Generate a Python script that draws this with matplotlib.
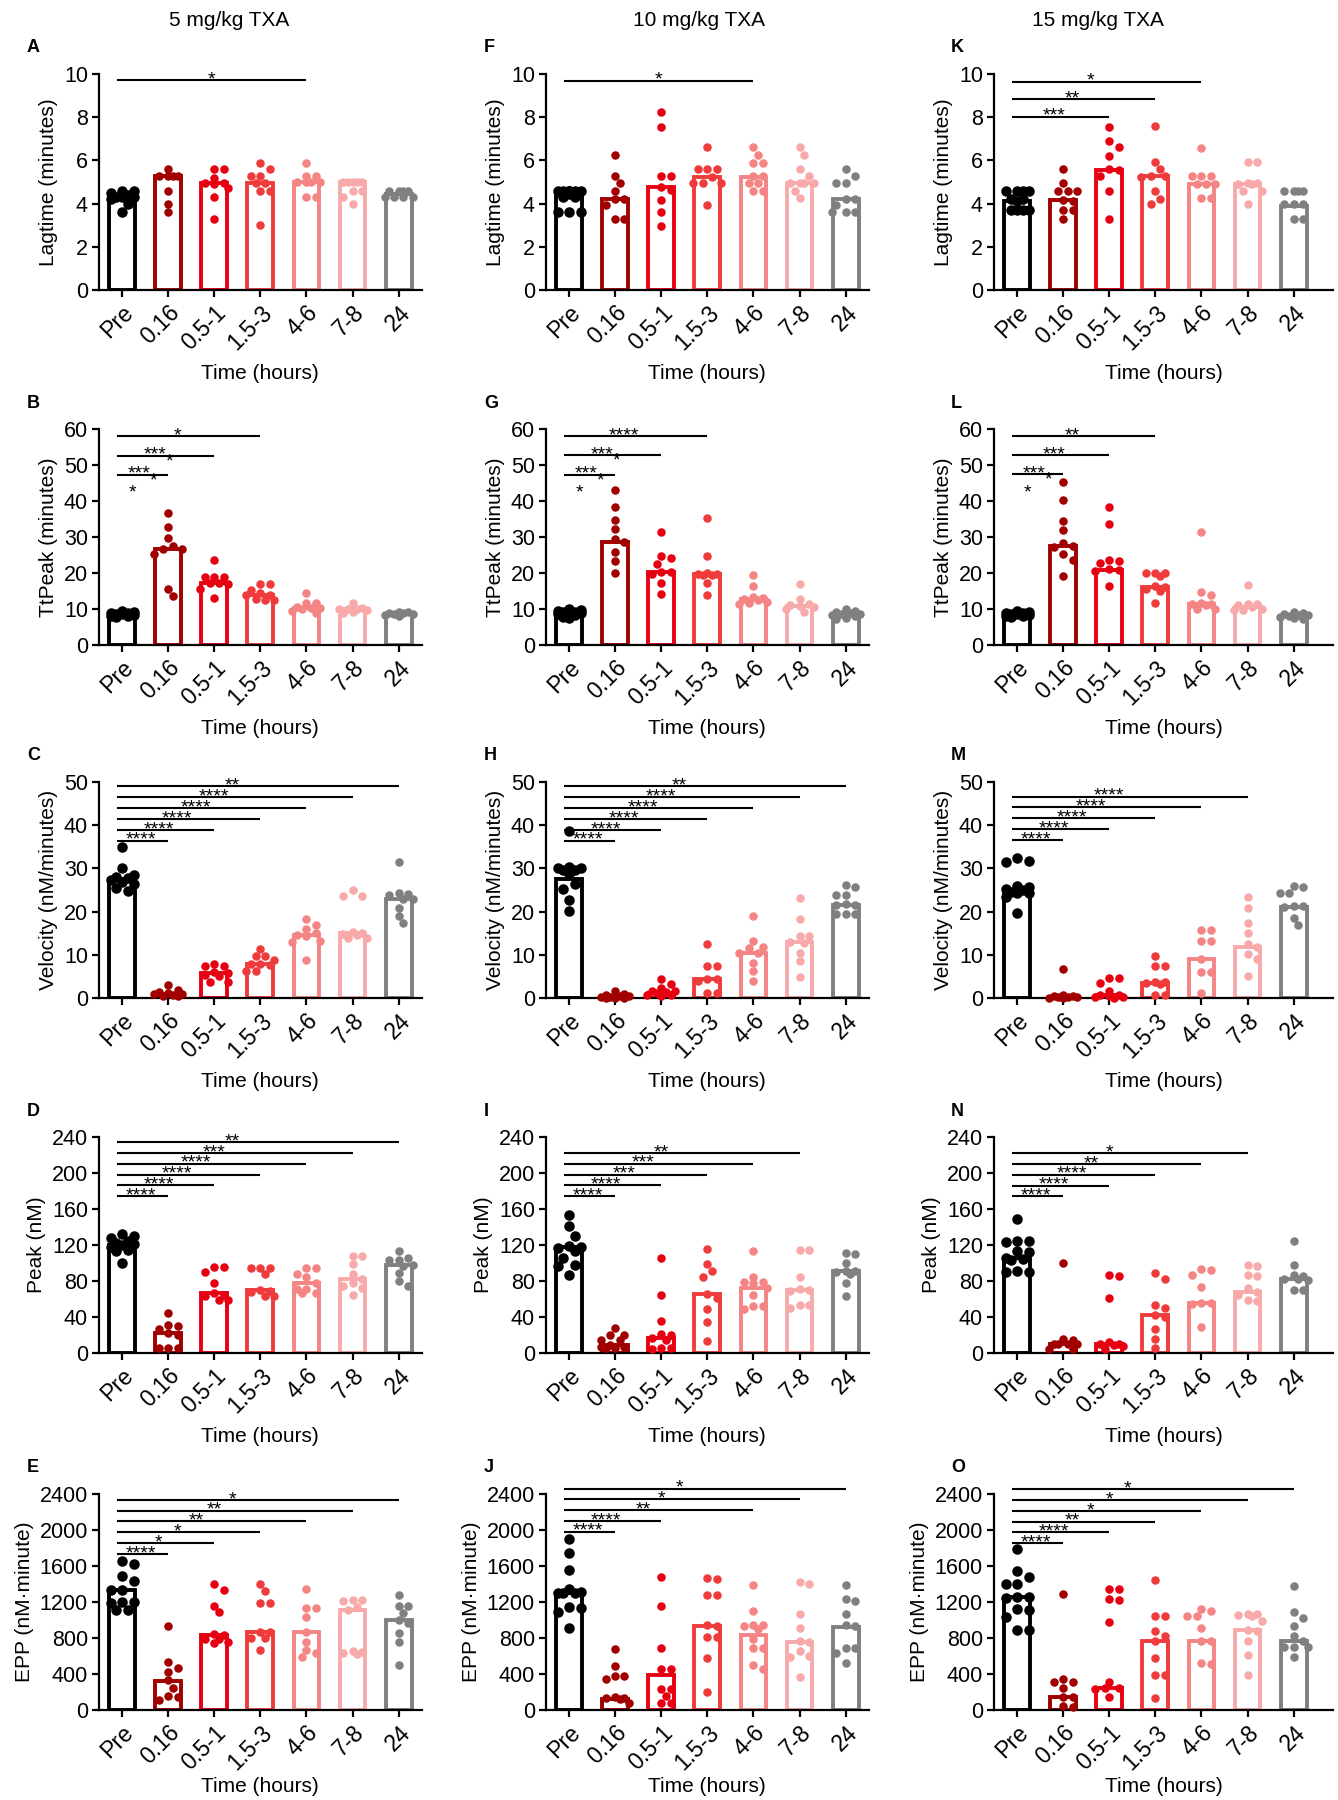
import numpy as np
import matplotlib
matplotlib.use('Agg')
import matplotlib.pyplot as plt

plt.rcParams['font.family'] = ['Liberation Sans', 'DejaVu Sans']

groups = ['Pre', '0.16', '0.5-1', '1.5-3', '4-6', '7-8', '24']
colors = ['#000000', '#a00000', '#e60012', '#ef3b3b', '#f58484', '#f8aaaa', '#808080']
doses = ['5 mg/kg TXA', '10 mg/kg TXA', '15 mg/kg TXA']
ylabels = ['Lagtime (minutes)', 'TtPeak (minutes)', 'Velocity (nM/minutes)',
           'Peak (nM)', 'EPP (nM·minute)']

# ---- 5 mg/kg ----
a_pts = [[4.6, 4.6, 4.5, 4.4, 4.3, 4.3, 4.3, 4.2, 4.0, 3.6],
         [5.6, 5.3, 5.3, 5.3, 5.3, 4.6, 4.0, 3.6],
         [5.6, 5.6, 5.2, 4.95, 4.95, 4.9, 4.7, 4.3, 3.3],
         [5.9, 5.6, 5.3, 5.3, 4.95, 4.95, 4.6, 4.6, 3.0],
         [5.9, 5.3, 5.3, 5.0, 5.0, 5.0, 5.0, 4.3, 4.3],
         [5.0, 5.0, 5.0, 5.0, 5.0, 4.6, 4.6, 4.3, 4.0],
         [4.6, 4.6, 4.6, 4.6, 4.3, 4.3, 4.3, 4.3]]
a_bar = [4.3, 5.3, 4.95, 4.95, 5.0, 5.0, 4.45]
a_sig = [(4, '*')]

b_pts = [[9.5, 9.2, 9.0, 8.8, 8.6, 8.5, 8.3, 8.1, 8.0, 7.8],
         [36.8, 32.7, 29.6, 27.4, 26.6, 26.6, 25.3, 15.5, 13.6],
         [23.6, 18.8, 18.8, 18.8, 17.3, 17.3, 17.0, 15.5, 13.0],
         [16.9, 16.9, 15.3, 14.5, 13.9, 13.9, 12.8, 12.5, 12.5],
         [14.4, 11.6, 11.6, 10.6, 10.4, 10.2, 10.0, 9.5, 8.8],
         [11.8, 10.2, 9.9, 9.9, 9.9, 9.6, 9.3, 9.0],
         [9.3, 9.2, 9.0, 8.8, 8.7, 8.5, 8.3, 8.0]]
b_bar = [8.4, 26.6, 17.3, 13.9, 10.4, 9.9, 8.75]
b_sig = [(1, '***.*'), (2, '***.*'), (3, '*')]

c_pts = [[35.0, 30.2, 28.4, 28.0, 27.8, 27.3, 26.8, 26.5, 25.5, 24.8],
         [2.9, 1.9, 1.5, 1.2, 1.0, 0.9, 0.6, 0.5, 0.4],
         [7.9, 7.4, 7.3, 6.0, 5.7, 5.4, 5.2, 3.8, 3.7],
         [11.4, 9.8, 9.8, 8.9, 7.9, 7.9, 7.6, 6.3, 6.2],
         [18.4, 16.9, 15.9, 15.0, 14.5, 14.3, 13.3, 13.0, 8.8],
         [25.0, 23.6, 23.6, 15.3, 15.0, 14.9, 14.5, 13.8, 13.8],
         [31.4, 24.4, 24.0, 23.9, 22.9, 22.9, 20.9, 19.0, 17.4]]
c_bar = [27.5, 1.0, 5.7, 7.9, 14.5, 15.0, 22.9]
c_sig = [(1, '****'), (2, '****'), (3, '****'), (4, '****'), (5, '****'), (6, '**')]

d_pts = [[132, 130, 128, 124, 122, 121, 120, 118, 115, 113, 100],
         [44.5, 31.5, 30.4, 26.3, 22.3, 20.4, 5.6, 5.6, 5.6],
         [96, 96, 90, 77.5, 66.4, 65, 63.8, 59.3, 59.3],
         [94.6, 94.6, 94.6, 88, 70, 69.4, 67.5, 63.8, 63.8],
         [94.6, 94.6, 88, 84, 77.5, 71, 71, 66.4, 66.4],
         [108, 108, 99, 88, 82.3, 78, 75, 72, 65],
         [113, 106, 103, 103, 98, 97, 89, 80, 74]]
d_bar = [120.5, 22.3, 66.4, 69.5, 77.5, 82.3, 97.9]
d_sig = [(1, '****'), (2, '****'), (3, '****'), (4, '****'), (5, '***'), (6, '**')]

e_pts = [[1660, 1625, 1485, 1430, 1330, 1330, 1200, 1195, 1190, 1110, 1110],
         [930, 530, 470, 420, 330, 245, 155, 150, 115],
         [1400, 1335, 1160, 1085, 850, 830, 790, 790, 760, 750],
         [1400, 1320, 1190, 1190, 870, 870, 800, 800, 670],
         [1350, 1135, 1130, 1035, 865, 760, 670, 635, 590],
         [1220, 1220, 1210, 1150, 1110, 660, 650, 630, 625],
         [1275, 1160, 1155, 1080, 1000, 970, 860, 760, 500]]
e_bar = [1330, 325, 830, 868, 864, 1108, 1004]
e_sig = [(1, '****'), (2, '*'), (3, '*'), (4, '**'), (5, '**'), (6, '*')]

# ---- 10 mg/kg ----
f_pts = [[4.6, 4.6, 4.6, 4.6, 4.6, 4.6, 4.6, 4.45, 4.3, 4.3, 3.6, 3.6, 3.6],
         [6.25, 5.3, 4.95, 4.6, 4.2, 4.2, 3.95, 3.3, 3.3],
         [8.25, 7.55, 5.3, 5.3, 4.75, 4.65, 4.15, 3.6, 2.95],
         [6.6, 5.6, 5.6, 5.6, 5.25, 4.95, 4.95, 4.95, 3.95],
         [6.6, 6.25, 5.9, 5.9, 5.28, 5.28, 4.95, 4.95, 4.6, 4.6],
         [6.6, 6.25, 5.6, 5.3, 4.95, 4.95, 4.95, 4.95, 4.6, 4.25],
         [5.6, 5.3, 4.95, 4.95, 4.2, 4.2, 3.95, 3.6, 3.6, 3.6]]
f_bar = [4.45, 4.2, 4.75, 5.25, 5.25, 4.95, 4.2]
f_sig = [(4, '*')]

g_pts = [[10.0, 9.6, 9.4, 9.2, 9.1, 9.0, 8.8, 8.5, 8.2, 7.8, 7.4],
         [43.1, 38.2, 34.7, 32.2, 29.4, 28.7, 25.7, 23.4, 20.1],
         [31.5, 24.7, 24.1, 22.6, 20.3, 20.3, 19.8, 17.3, 14.1],
         [35.2, 24.8, 19.9, 19.7, 19.7, 19.5, 19.4, 17.3, 13.8],
         [19.4, 16.4, 13.2, 13.1, 12.9, 12.5, 12.0, 11.8, 11.3],
         [16.9, 12.7, 11.3, 11.0, 10.9, 10.5, 9.9, 9.3],
         [10.1, 9.4, 9.1, 8.8, 8.6, 8.5, 8.3, 8.0, 7.6, 7.3]]
g_bar = [9.0, 28.7, 20.3, 19.7, 12.9, 10.9, 8.6]
g_sig = [(1, '***.*'), (2, '***.*'), (3, '****')]

h_pts = [[38.6, 30.4, 30.2, 30.0, 29.7, 29.6, 28.7, 26.4, 25.2, 22.6, 20.2],
         [1.6, 0.9, 0.7, 0.5, 0.4, 0.3, 0.2, 0.1, 0.1, 0.0],
         [4.5, 3.3, 2.3, 1.7, 1.6, 1.5, 1.2, 0.7, 0.6, 0.5],
         [12.6, 7.4, 7.3, 4.5, 4.4, 4.0, 1.2, 1.1],
         [19.0, 13.2, 11.8, 11.6, 10.5, 10.4, 8.1, 6.2, 4.0],
         [23.1, 18.4, 14.4, 14.3, 13.0, 12.8, 10.5, 8.5, 4.9],
         [26.2, 25.6, 23.9, 23.9, 21.8, 21.6, 21.5, 19.4, 19.4, 19.4]]
h_bar = [27.5, 0.4, 1.2, 4.5, 10.5, 13.0, 21.6]
h_sig = [(1, '****'), (2, '****'), (3, '****'), (4, '****'), (5, '****'), (6, '**')]

i_pts = [[153, 141, 130, 119, 118, 117, 113, 106, 98, 97, 87],
         [27.4, 20.4, 20.0, 15.0, 14.6, 9.0, 6.3, 6.3, 6.0, 5.5],
         [105.7, 64.5, 36, 21, 20, 16.7, 15, 5.6, 5.6, 5.0],
         [115.7, 99, 91, 85, 65.7, 60.8, 49, 34, 13.7],
         [112.8, 84.2, 78.6, 78.6, 78, 72, 64, 52.7, 52.7, 49],
         [115, 115, 84, 71, 70, 69, 53.8, 53.8, 50],
         [111, 110, 100, 91, 91, 90.5, 88, 77.5, 63.8]]
i_bar = [117.5, 9.0, 16.7, 65.7, 72, 70, 90.9]
i_sig = [(1, '****'), (2, '****'), (3, '***'), (4, '***'), (5, '**')]

j_pts = [[1900, 1750, 1555, 1350, 1310, 1305, 1300, 1295, 1140, 1135, 1090, 910],
         [675, 490, 380, 375, 350, 140, 135, 130, 125, 80],
         [1473, 1157, 694, 460, 455, 237, 230, 156, 74, 74],
         [1465, 1455, 1280, 1275, 940, 930, 816, 810, 582, 200],
         [1388, 1102, 945, 940, 935, 898, 786, 694, 690, 500, 455],
         [1420, 1400, 1065, 916, 770, 760, 655, 600, 590, 370],
         [1388, 1232, 1206, 1065, 942, 935, 694, 690, 631, 527]]
j_bar = [1298, 126, 390, 935, 835, 760, 927]
j_sig = [(1, '****'), (2, '****'), (4, '**'), (5, '*'), (6, '*')]

# ---- 15 mg/kg ----
k_pts = [[4.6, 4.6, 4.6, 4.6, 4.2, 4.2, 4.1, 3.7, 3.7, 3.7, 3.7],
         [5.6, 4.95, 4.6, 4.6, 4.6, 4.17, 4.1, 3.7, 3.7, 3.3],
         [7.55, 6.9, 6.6, 6.2, 5.6, 5.55, 5.3, 4.6, 3.3],
         [7.57, 5.92, 5.59, 5.3, 5.26, 5.25, 4.6, 4.23, 3.97],
         [6.58, 5.26, 5.26, 5.26, 4.9, 4.9, 4.9, 4.28, 4.28],
         [5.92, 5.92, 4.95, 4.95, 4.93, 4.93, 4.6, 4.6, 3.97],
         [4.6, 4.6, 4.6, 4.6, 3.97, 3.97, 3.97, 3.31, 3.31]]
k_bar = [4.12, 4.17, 5.55, 5.26, 4.9, 4.93, 3.9]
k_sig = [(2, '***'), (3, '**'), (4, '*')]

l_pts = [[9.5, 9.2, 9.0, 8.8, 8.6, 8.5, 8.3, 8.1, 8.0, 7.8],
         [45.4, 40.2, 34.5, 31.9, 28.3, 27.6, 27.3, 25.3, 23.6, 19.2],
         [38.2, 33.6, 23.6, 23.4, 22.7, 21.0, 20.7, 20.5, 16.4],
         [20.1, 20.0, 19.9, 19.2, 16.5, 16.1, 15.5, 15.0, 11.8],
         [31.5, 14.6, 14.0, 11.6, 11.5, 11.5, 11.2, 10.0, 10.0],
         [16.8, 11.4, 11.3, 11.0, 10.5, 10.0, 9.8, 9.6],
         [9.2, 8.8, 8.5, 8.3, 8.2, 8.0, 7.8, 7.5, 7.2]]
l_bar = [8.4, 27.6, 20.7, 16.1, 11.5, 10.5, 8.0]
l_sig = [(1, '***.*'), (2, '***'), (3, '**')]

m_pts = [[32.3, 31.8, 31.5, 26.0, 25.8, 25.2, 24.9, 24.6, 24.4, 24.2, 23.3, 19.7],
         [6.6, 0.6, 0.5, 0.4, 0.3, 0.2, 0.2, 0.1, 0.1],
         [4.7, 4.6, 3.5, 1.6, 0.8, 0.6, 0.4, 0.3, 0.2, 0.1],
         [9.8, 7.4, 7.4, 3.8, 3.7, 3.5, 3.2, 0.8, 0.8],
         [15.8, 15.8, 13.1, 13.1, 9.0, 6.0, 6.0, 1.1],
         [23.3, 20.8, 17.4, 15.0, 12.6, 11.8, 10.3, 9.1, 5.0],
         [26.0, 25.6, 24.4, 24.4, 21.3, 21.2, 21.0, 18.6, 17.0]]
m_bar = [24.9, 0.3, 0.7, 3.5, 9.0, 11.8, 21.0]
m_sig = [(1, '****'), (2, '****'), (3, '****'), (4, '****'), (5, '****')]

n_pts = [[148.5, 124.5, 124, 123, 113, 112, 106, 104, 103, 91, 90, 90],
         [99.8, 15.8, 14, 10.5, 10, 9.8, 9.5, 5, 4.5],
         [87, 86, 60.8, 12, 10, 9.8, 9, 8, 4.5],
         [88.5, 81.8, 53.3, 50, 42, 40, 27, 15.8, 6],
         [93, 92, 87, 73.5, 56, 55.5, 55, 28.5],
         [98.3, 97, 87, 86, 72, 68.3, 65, 58.5, 58],
         [124.5, 98.3, 87, 86, 82, 81.8, 81.5, 70.5, 70]]
n_bar = [105.8, 10.5, 9.8, 42, 55.5, 68.3, 82]
n_sig = [(1, '****'), (2, '****'), (3, '****'), (4, '**'), (5, '*')]

o_pts = [[1790, 1550, 1480, 1400, 1400, 1260, 1255, 1250, 1120, 1115, 1030, 890, 890],
         [1290, 350, 315, 310, 240, 145, 140, 40, 35],
         [1345, 1340, 1230, 1225, 975, 315, 245, 240, 235, 143],
         [1440, 1045, 1040, 877, 820, 765, 577, 390, 385, 128],
         [1117, 1100, 1042, 1040, 915, 765, 765, 517, 515],
         [1070, 1065, 1060, 1050, 990, 890, 877, 765, 615, 390],
         [1380, 1087, 1027, 937, 825, 765, 705, 700, 700, 592]]
o_bar = [1252, 143, 240, 765, 765, 890, 765]
o_sig = [(1, '****'), (2, '****'), (3, '**'), (4, '*'), (5, '*'), (6, '*')]

panels = [
    [('A', a_pts, a_bar, a_sig), ('B', b_pts, b_bar, b_sig), ('C', c_pts, c_bar, c_sig),
     ('D', d_pts, d_bar, d_sig), ('E', e_pts, e_bar, e_sig)],
    [('F', f_pts, f_bar, f_sig), ('G', g_pts, g_bar, g_sig), ('H', h_pts, h_bar, h_sig),
     ('I', i_pts, i_bar, i_sig), ('J', j_pts, j_bar, j_sig)],
    [('K', k_pts, k_bar, k_sig), ('L', l_pts, l_bar, l_sig), ('M', m_pts, m_bar, m_sig),
     ('N', n_pts, n_bar, n_sig), ('O', o_pts, o_bar, o_sig)],
]

# layout (pixels on a 1338x1800 canvas)
W, H = 1338, 1800
col_left = [99, 546, 994]
col_xmax = [6.5, 6.5, 6.85]
letter_x = [27, 484, 951]
title_x = [229, 699, 1098]
row_top = [74, 429, 782, 1137, 1494]
ax_h = 216
px_per_cat = 46.1
row_axis = [(10, 2), (60, 10), (50, 10), (240, 40), (2400, 400)]
# bottom level and spacing of the comparison lines (fraction of y max)
sig_layout = {'A': (0.97, 0), 'B': (0.788, 0.089), 'C': (0.728, 0.0504),
              'D': (0.726, 0.05), 'E': (0.723, 0.05), 'F': (0.969, 0),
              'G': (0.788, 0.09), 'H': (0.728, 0.0504), 'I': (0.726, 0.05),
              'J': (0.825, 0.05), 'K': (0.803, 0.081), 'L': (0.79, 0.088),
              'M': (0.732, 0.05), 'N': (0.725, 0.05), 'O': (0.772, 0.05)}
STAR = 14


def swarm(vals, ymax, diam, half=15):
    # simple deterministic beeswarm, offsets in category units
    py = ax_h / ymax
    step = diam * 0.55
    cands = [0.0]
    k = 1
    while k * step <= half:
        cands += [k * step, -k * step]
        k += 1
    xs = np.zeros(len(vals))
    placed = []
    for i in np.argsort(-np.asarray(vals), kind='stable'):
        y = vals[i] * py
        best, bestd = 0.0, -1
        for c in cands:
            d = min([np.hypot(c - px, y - yy) for px, yy in placed], default=1e9)
            if d >= diam * 0.95:
                best = c
                break
            if d > bestd:
                best, bestd = c, d
        placed.append((best, y))
        xs[i] = best / px_per_cat
    return xs


def star_text(ax, x, y, txt, dx=0, dy=-3):
    ax.annotate(txt, (x, y), xytext=(dx, dy), textcoords='offset points',
                ha='center', va='baseline', fontsize=STAR, annotation_clip=False)


fig = plt.figure(figsize=(W / 100, H / 100), dpi=100)

for ci, col in enumerate(panels):
    xmax = col_xmax[ci]
    ax_w = (xmax + 0.5) * px_per_cat
    for ri, (letter, pts, bars, sig) in enumerate(col):
        ymax, ystep = row_axis[ri]
        ax = fig.add_axes([col_left[ci] / W, 1 - (row_top[ri] + ax_h) / H, ax_w / W, ax_h / H])
        x = np.arange(7)
        ax.bar(x, bars, width=0.56, facecolor='none', edgecolor=colors,
               linewidth=2.8, zorder=2)
        for gi, vals in enumerate(pts):
            diam = 10.5 if gi == 0 else 8.5
            xs = swarm(vals, ymax, diam)
            ax.scatter(gi + xs, vals, s=(diam * 0.72) ** 2, color=colors[gi],
                       linewidths=0, zorder=3, clip_on=False)

        base, step = sig_layout[letter]
        for rank, (end, lab) in enumerate(sig):
            y = ymax * (base + step * rank)
            ax.plot([-0.12, end], [y, y], color='black', lw=1.5,
                    solid_capstyle='butt', clip_on=False, zorder=4)
            xt = (end - 0.12) / 2 if len(sig) == 1 else 0.4 * end
            if '.' in lab:
                main = lab.split('.')[0]
                xt = 0.36 * end
                star_text(ax, xt, y, main)
                star_text(ax, xt, y, '*', dx=10.5, dy=-7.5)
            else:
                star_text(ax, xt, y, lab)
        if ri == 1:
            star_text(ax, 0.22, ymax * 0.7, '*')

        ax.set_xlim(-0.5, xmax)
        ax.set_ylim(0, ymax)
        ax.set_yticks(np.arange(0, ymax + ystep / 2, ystep))
        ax.set_xticks(x)
        ax.set_xticklabels(groups, rotation=45, ha='right', rotation_mode='anchor',
                           fontsize=16.5)
        ax.spines[['top', 'right']].set_visible(False)
        for s in ['left', 'bottom']:
            ax.spines[s].set_linewidth(1.6)
        ax.tick_params(width=1.6, length=5, pad=3)
        ax.tick_params(axis='y', labelsize=15.5)
        ax.set_ylabel(ylabels[ri], fontsize=15, labelpad=4)
        ax.set_xlabel('Time (hours)', fontsize=15, labelpad=2 if ri == 4 else 7)

        fig.text(letter_x[ci] / W, 1 - (row_top[ri] - 26) / H, letter,
                 fontsize=13, fontweight='bold', va='center', ha='left')

for ci, t in enumerate(doses):
    fig.text(title_x[ci] / W, 1 - 21 / H, t, fontsize=15, ha='center', va='center')

fig.savefig('out.png', dpi=100)
